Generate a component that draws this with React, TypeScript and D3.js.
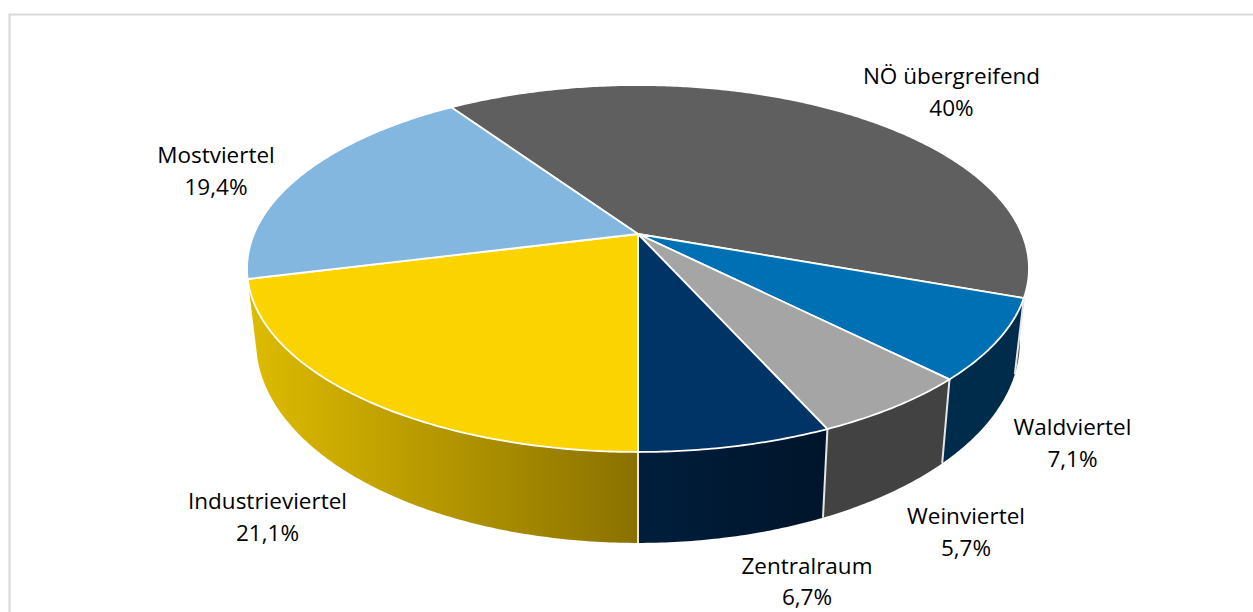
import React from "react";
import * as d3 from "d3";

const regions = ["NÖ übergreifend", "Waldviertel", "Weinviertel", "Zentralraum", "Industrieviertel", "Mostviertel"];
const shares = [40, 7.1, 5.7, 6.7, 21.1, 19.4];
const shareLabels = ["40%", "7,1%", "5,7%", "6,7%", "21,1%", "19,4%"];
const topColors = ["#5f5f5f", "#0070b4", "#a5a5a5", "#003366", "#fbd400", "#84b7e0"];
const sideFrom = ["#3c3c3c", "#002c4c", "#424242", "#001e3c", "#dcba00", "#5a7d99"];
const sideTo = ["#3c3c3c", "#002c4c", "#424242", "#00152b", "#8a7100", "#5a7d99"];
const labelX = [951.5, 1072.5, 966, 807, 267.5, 216];
const labelY = [84, 435, 524, 574, 509, 163];
const labelGap = [32, 32, 32, 31, 32, 32];

const W = 1253;
const H = 612;
const START = (-34.2 * Math.PI) / 180;
const K = 0.188;
const topPlane = { cx: 638, cy: 234, rx: 384, ry: 177 };
const basePlane = { cx: 638, cy: 304, rx: 375, ry: 194 };

type Plane = typeof topPlane;

// Perspective projection of a point on the unit circle (angle clockwise from 12 o'clock).
function project(p: Plane, a: number): [number, number] {
  const x = Math.sin(a);
  const y = -Math.cos(a);
  const d = 1 - K * y;
  return [p.cx + (p.rx * x) / d, p.cy + (p.ry * y) / d];
}

function arcPoints(p: Plane, a0: number, a1: number): [number, number][] {
  const steps = Math.max(2, Math.ceil(Math.abs(a1 - a0) / 0.01));
  return d3.range(steps + 1).map((i) => project(p, a0 + ((a1 - a0) * i) / steps));
}

const line = d3.line();
const arcs = d3
  .pie<number>()
  .sort(null)
  .startAngle(START)
  .endAngle(START + 2 * Math.PI)(shares);

// Angles where the rim turns away from the viewer.
const SIL_RIGHT = Math.acos(-K);
const SIL_LEFT = 2 * Math.PI - SIL_RIGHT;

export default function App() {
  // Only slices whose rim faces the viewer get an outer wall.
  const walls = arcs
    .map((a, i) => ({
      i,
      lo: Math.max(a.startAngle, SIL_RIGHT - 0.03),
      hi: a.endAngle,
      visible: a.endAngle > SIL_RIGHT && a.startAngle < SIL_LEFT - 0.1,
    }))
    .filter((w) => w.visible);

  return (
    <svg
      width={W}
      height={H}
      viewBox={`0 0 ${W} ${H}`}
      style={{ position: "absolute", left: 0, top: 0, background: "#fff" }}
    >
      <defs>
        {walls.map((w) => {
          const xs = [project(basePlane, w.lo)[0], project(basePlane, w.hi)[0]];
          return (
            <linearGradient
              key={w.i}
              id={`wall-${w.i}`}
              gradientUnits="userSpaceOnUse"
              x1={Math.min(...xs)}
              x2={Math.max(...xs)}
              y1={0}
              y2={0}
            >
              <stop offset="0%" stopColor={sideFrom[w.i]} />
              <stop offset="100%" stopColor={sideTo[w.i]} />
            </linearGradient>
          );
        })}
      </defs>

      <path d={`M9.5,${H}V14.5H${W}`} fill="none" stroke="#d9d9d9" strokeWidth={2.2} />

      {walls.map((w) => (
        <path
          key={w.i}
          d={line([...arcPoints(topPlane, w.lo, w.hi), ...arcPoints(basePlane, w.hi, w.lo)]) + "Z"}
          fill={`url(#wall-${w.i})`}
        />
      ))}
      {arcs.slice(0, 4).map((a, i) => (
        <path
          key={i}
          d={line([project(topPlane, a.endAngle), project(basePlane, a.endAngle)]) ?? ""}
          fill="none"
          stroke="#e6e6e6"
          strokeWidth={2}
        />
      ))}

      {arcs.map((a, i) => (
        <path
          key={i}
          d={line([[topPlane.cx, topPlane.cy], ...arcPoints(topPlane, a.startAngle, a.endAngle)]) + "Z"}
          fill={topColors[i]}
          stroke="#fff"
          strokeWidth={1.8}
          strokeLinejoin="round"
        />
      ))}

      <g fontFamily="'Open Sans', sans-serif" fontSize={22.5} fill="#000" textAnchor="middle">
        {regions.map((r, i) => (
          <text key={r} x={labelX[i]} y={labelY[i]}>
            <tspan x={labelX[i]}>{r}</tspan>
            <tspan x={labelX[i]} dy={labelGap[i]}>
              {shareLabels[i]}
            </tspan>
          </text>
        ))}
      </g>
    </svg>
  );
}
